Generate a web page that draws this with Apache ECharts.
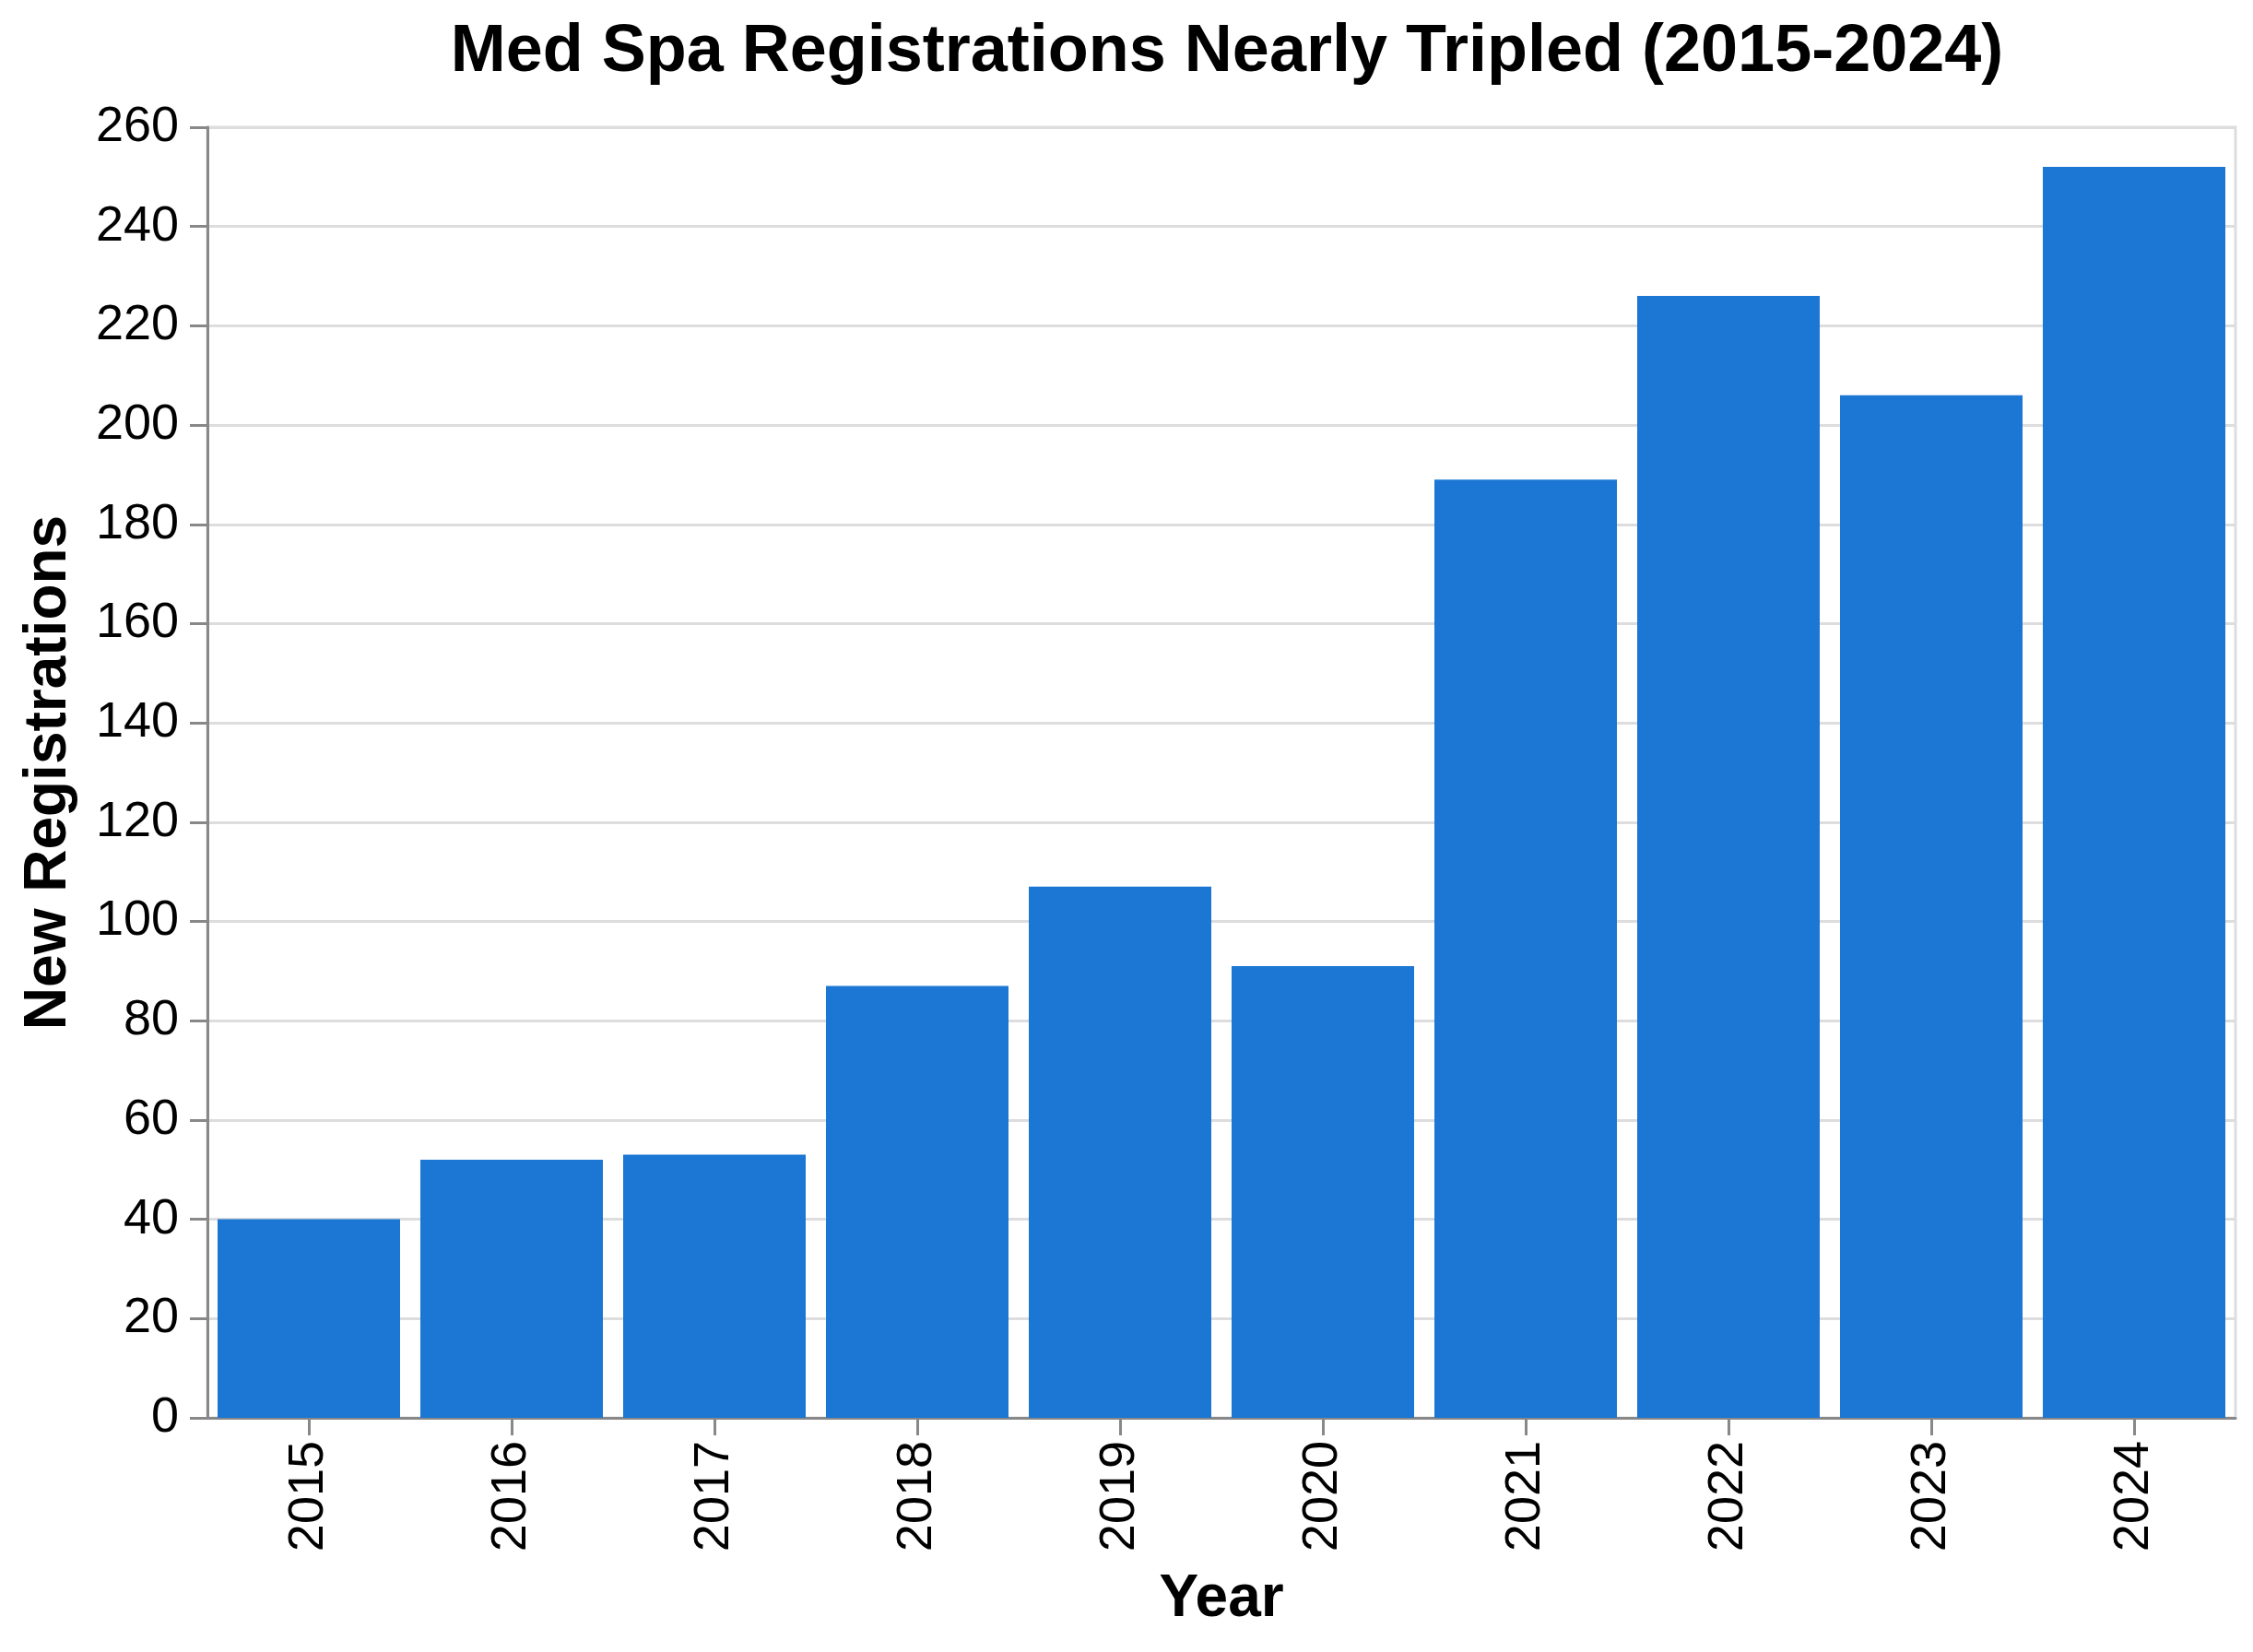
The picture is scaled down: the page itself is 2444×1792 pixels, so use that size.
<!DOCTYPE html>
<html>
<head>
<meta charset="utf-8">
<script src="https://cdn.jsdelivr.net/npm/echarts@6/dist/echarts.min.js"></script>
<style>
html,body{margin:0;padding:0;background:#fff;}
#chart{width:2444px;height:1792px;}
</style>
</head>
<body>
<div id="chart"></div>
<script>
const years = ['2015','2016','2017','2018','2019','2020','2021','2022','2023','2024'];
const registrations = [40, 52, 53, 87, 107, 91, 189, 226, 206, 252];
const yTicks = {min: 0, max: 260, interval: 20};
const titleText = 'Med Spa Registrations Nearly Tripled (2015-2024)';
const xTitle = 'Year';
const yTitle = 'New Registrations';

const FONT = '"Liberation Sans", Arial, Helvetica, sans-serif';
const chart = echarts.init(document.getElementById('chart'), null, {renderer: 'canvas'});
chart.setOption({
  animation: false,
  backgroundColor: '#ffffff',
  title: {
    text: titleText,
    left: 1326,
    textAlign: 'center',
    top: 16,
    textStyle: {fontFamily: FONT, fontSize: 72, fontWeight: 'bold', color: '#000'}
  },
  grid: {
    left: 225, right: 19, top: 138, bottom: 254,
    show: true, borderColor: '#dddddd', borderWidth: 3, backgroundColor: 'transparent'
  },
  xAxis: {
    type: 'category',
    data: years,
    name: xTitle,
    nameLocation: 'middle',
    nameGap: 165,
    nameTextStyle: {fontFamily: FONT, fontSize: 64, fontWeight: 'bold', color: '#000'},
    axisLine: {show: true, lineStyle: {color: '#888888', width: 3}},
    axisTick: {show: true, alignWithLabel: true, length: 19, lineStyle: {color: '#888888', width: 3}},
    axisLabel: {rotate: 90, margin: 25, fontFamily: FONT, fontSize: 54, color: '#000'},
    splitLine: {show: false}
  },
  yAxis: {
    type: 'value',
    min: yTicks.min, max: yTicks.max, interval: yTicks.interval,
    name: yTitle,
    nameLocation: 'middle',
    nameRotate: 90,
    nameGap: 140,
    nameTextStyle: {fontFamily: FONT, fontSize: 64, fontWeight: 'bold', color: '#000'},
    axisLine: {show: true, lineStyle: {color: '#888888', width: 3}},
    axisTick: {show: true, length: 19, lineStyle: {color: '#888888', width: 3}},
    axisLabel: {margin: 31, fontFamily: FONT, fontSize: 54, color: '#000'},
    splitLine: {show: true, lineStyle: {color: '#dddddd', width: 3}}
  },
  series: [{
    type: 'bar',
    data: registrations,
    barCategoryGap: '10%',
    itemStyle: {color: '#1b77d3'}
  }]
});
</script>
</body>
</html>
